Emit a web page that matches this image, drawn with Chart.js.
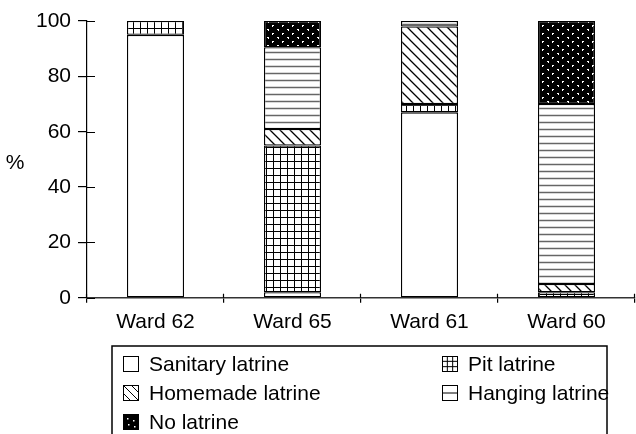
<!DOCTYPE html>
<html>
<head>
<meta charset="utf-8">
<script src="https://cdn.jsdelivr.net/npm/chart.js@4"></script>
<style>
  html, body { margin: 0; padding: 0; background: #fff; }
  #wrap { width: 636px; height: 434px; position: relative; }
</style>
</head>
<body>
<div id="wrap"><canvas id="chart"></canvas></div>
<script>
const wards = ['Ward 62', 'Ward 65', 'Ward 61', 'Ward 60'];
const sanitary = [95, 2, 67, 0];
const pit = [5, 53, 3, 2];
const homemade = [0, 6, 28, 3];
const hanging = [0, 29.5, 2, 65];
const noLatrine = [0, 9.5, 0, 30];
const yTicks = [0, 20, 40, 60, 80, 100];

const FONT = '"Liberation Sans", Arial, Helvetica, sans-serif';
const FSIZE = 21;

// hatch fills
function makePattern(w, h, draw) {
    const c = document.createElement('canvas');
    c.width = w; c.height = h;
    const g = c.getContext('2d');
    draw(g, w, h);
    return g.createPattern(c, 'repeat');
}

const fills = {
    sanitary: '#ffffff',
    pit: makePattern(7, 7, (g, w, h) => {
        g.fillStyle = '#fff'; g.fillRect(0, 0, w, h);
        g.strokeStyle = '#000'; g.lineWidth = 1;
        g.beginPath();
        g.moveTo(0.5, 0); g.lineTo(0.5, h);
        g.moveTo(0, 0.5); g.lineTo(w, 0.5);
        g.stroke();
    }),
    homemade: makePattern(10, 10, (g, w, h) => {
        g.fillStyle = '#fff'; g.fillRect(0, 0, w, h);
        g.strokeStyle = '#000'; g.lineWidth = 1.3;
        g.beginPath();
        g.moveTo(-1, -1); g.lineTo(w + 1, h + 1);
        g.moveTo(-1, h - 1); g.lineTo(1, h + 1);
        g.moveTo(w - 1, -1); g.lineTo(w + 1, 1);
        g.stroke();
    }),
    hanging: makePattern(7, 7, (g, w, h) => {
        g.fillStyle = '#fff'; g.fillRect(0, 0, w, h);
        g.strokeStyle = '#666'; g.lineWidth = 1.5;
        g.beginPath();
        g.moveTo(0, 3.5); g.lineTo(w, 3.5);
        g.stroke();
    }),
    noLatrine: makePattern(10, 8, (g, w, h) => {
        g.fillStyle = '#000'; g.fillRect(0, 0, w, h);
        g.fillStyle = '#fff';
        g.fillRect(2, 1, 2, 1); g.fillRect(2, 2, 1, 1);
        g.fillRect(7, 5, 2, 1); g.fillRect(8, 6, 1, 1);
    })
};

// legend icons drawn by hand so they look like the printed key
function drawIcon(ctx, key, x, y, s) {
    ctx.save();
    ctx.fillStyle = key === 'noLatrine' ? '#000' : '#fff';
    ctx.fillRect(x, y, s, s);
    ctx.strokeStyle = '#000';
    ctx.lineWidth = 1;
    ctx.beginPath();
    if (key === 'pit') {
        for (let i = 1; i < 3; i++) {
            ctx.moveTo(x + i * s / 3, y); ctx.lineTo(x + i * s / 3, y + s);
            ctx.moveTo(x, y + i * s / 3); ctx.lineTo(x + s, y + i * s / 3);
        }
    } else if (key === 'hanging') {
        ctx.moveTo(x, y + s / 2); ctx.lineTo(x + s, y + s / 2);
    } else if (key === 'homemade') {
        ctx.moveTo(x, y); ctx.lineTo(x + s, y + s);
        ctx.moveTo(x, y + s / 2); ctx.lineTo(x + s / 2, y + s);
        ctx.moveTo(x + s / 2, y); ctx.lineTo(x + s, y + s / 2);
    }
    ctx.stroke();
    if (key === 'noLatrine') {
        ctx.fillStyle = '#fff';
        [[4, 4], [10, 6], [5, 10], [11, 12]].forEach(([dx, dy]) => ctx.fillRect(x + dx, y + dy, 1.5, 1.5));
    }
    ctx.strokeRect(x + 0.5, y + 0.5, s - 1, s - 1);
    ctx.restore();
}

const boxedLegend = {
    id: 'boxedLegend',
    afterDraw(chart) {
        const ctx = chart.ctx;
        ctx.save();
        ctx.strokeStyle = '#000';
        ctx.lineWidth = 1.5;
        ctx.strokeRect(112, 346, 495, 120);
        ctx.font = FSIZE + 'px ' + FONT;
        ctx.fillStyle = '#000';
        ctx.textBaseline = 'middle';
        const cols = [123, 442];
        const rows = [364, 393, 422];
        chart.data.datasets.forEach((ds, i) => {
            const x = cols[i % 2];
            const y = rows[Math.floor(i / 2)];
            drawIcon(ctx, ds.key, x, y - 8, 16);
            ctx.fillText(ds.label, x + 26, y + 1);
        });
        ctx.restore();
    }
};

// tick marks that cross the axis lines
const crossTicks = {
    id: 'crossTicks',
    afterDraw(chart) {
        const { ctx, scales: { x, y } } = chart;
        ctx.save();
        ctx.strokeStyle = '#000';
        ctx.lineWidth = 1.2;
        ctx.beginPath();
        y.ticks.forEach(t => {
            const py = Math.round(y.getPixelForValue(t.value)) + 0.5;
            ctx.moveTo(x.left, py); ctx.lineTo(x.left + 8, py);
        });
        const step = x.width / wards.length;
        for (let i = 0; i <= wards.length; i++) {
            const px = Math.round(x.left + i * step) - 0.5;
            ctx.moveTo(px, y.bottom); ctx.lineTo(px, y.bottom - 4);
        }
        ctx.stroke();
        ctx.font = FSIZE + 'px ' + FONT;
        ctx.fillStyle = '#000';
        ctx.textAlign = 'center';
        ctx.textBaseline = 'middle';
        ctx.fillText('%', 15, 163);
        ctx.restore();
    }
};

const series = [
    { key: 'sanitary', label: 'Sanitary latrine', data: sanitary },
    { key: 'pit', label: 'Pit latrine', data: pit },
    { key: 'homemade', label: 'Homemade latrine', data: homemade },
    { key: 'hanging', label: 'Hanging latrine', data: hanging },
    { key: 'noLatrine', label: 'No latrine', data: noLatrine }
];

new Chart(document.getElementById('chart'), {
    type: 'bar',
    data: {
        labels: wards,
        datasets: series.map(s => ({
            key: s.key,
            label: s.label,
            data: s.data.map(v => (v === 0 ? null : v)), // empty segments are not drawn
            backgroundColor: fills[s.key],
            borderColor: '#000',
            borderWidth: 1.3,
            borderSkipped: false,
            categoryPercentage: 1,
            barPercentage: 0.416
        }))
    },
    options: {
        responsive: true,
        maintainAspectRatio: false,
        animation: false,
        layout: { padding: { top: 21, right: 1, bottom: 92, left: 0 } },
        plugins: {
            legend: { display: false },
            tooltip: { enabled: false }
        },
        scales: {
            x: {
                stacked: true,
                grid: { display: true, offset: true, drawOnChartArea: false, tickLength: 5, color: '#000', lineWidth: 1.2 },
                border: { display: true, color: '#333', width: 1.5 },
                ticks: { color: '#000', font: { family: FONT, size: FSIZE }, padding: 7, maxRotation: 0 }
            },
            y: {
                stacked: true,
                min: 0,
                max: 100,
                afterFit: s => { s.width = 87; },
                afterBuildTicks: s => { s.ticks = yTicks.map(v => ({ value: v })); },
                grid: { display: true, drawOnChartArea: false, tickLength: 9, color: '#000', lineWidth: 1.2 },
                border: { display: true, color: '#000', width: 1.2 },
                ticks: { color: '#000', font: { family: FONT, size: FSIZE }, padding: 7 }
            }
        }
    },
    plugins: [crossTicks, boxedLegend]
});
</script>
</body>
</html>
